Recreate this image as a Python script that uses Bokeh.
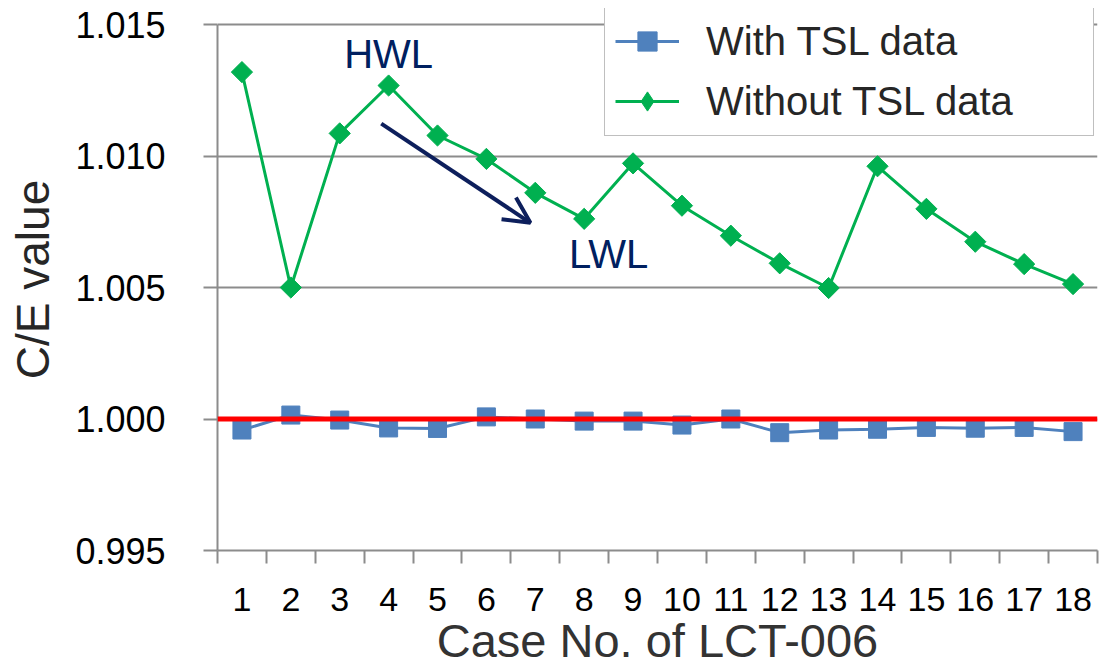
from bokeh.plotting import figure
from bokeh.models import (FixedTicker, NumeralTickFormatter, Span, Legend, LegendItem,
                          Label, Arrow, OpenHead)
from bokeh.embed import file_html
from bokeh.resources import INLINE

# ---------------- data ----------------
cases = list(range(1, 19))
case_labels = [str(c) for c in cases]
with_tsl = [0.99958, 1.00015, 0.99996, 0.99966, 0.99964, 1.00008, 1.00000, 0.99992, 0.99992,
            0.99977, 1.00000, 0.99948, 0.99958, 0.99961, 0.99968, 0.99965, 0.99968, 0.99952]
without_tsl = [1.01319, 1.00500, 1.01086, 1.01268, 1.01078, 1.00989, 1.00860, 1.00761, 1.00972,
               1.00811, 1.00697, 1.00592, 1.00498, 1.00961, 1.00799, 1.00674, 1.00589, 1.00513]
y_ticks = [0.995, 1.000, 1.005, 1.010, 1.015]
series_names = ["With TSL data", "Without TSL data"]

FONT = "Liberation Sans, Arial, sans-serif"
GRID = "#8c8c8c"
BLUE = "#4f81bd"
GREEN = "#00b050"
NAVY = "#0d1f5c"

W, H = 1099, 670
TOP_PAD = 16  # frame extends this many px above the 1.015 gridline (room for the legend)
FRAME_TOP, FRAME_BOTTOM = 8, 550
y_lo, y_hi = y_ticks[0], y_ticks[-1]
y_end = y_hi + (y_hi - y_lo) * TOP_PAD / (FRAME_BOTTOM - FRAME_TOP - TOP_PAD)

p = figure(width=W, height=H, output_backend="svg", toolbar_location=None,
           x_range=(0.5, 18.5), y_range=(y_lo, y_end),
           min_border_left=217, min_border_top=FRAME_TOP, min_border_right=2,
           min_border_bottom=H - FRAME_BOTTOM)
p.outline_line_color = None
p.background_fill_color = "white"

# axes
xa = p.xaxis[0]
xa.ticker = FixedTicker(ticks=cases, minor_ticks=[c + 0.5 for c in [0] + cases])
xa.major_label_overrides = {c: l for c, l in zip(cases, case_labels)}
xa.major_tick_out = 0
xa.major_tick_in = 0
xa.minor_tick_out = 13
xa.minor_tick_in = 0
xa.minor_tick_line_color = GRID
xa.minor_tick_line_width = 2
xa.axis_line_color = GRID
xa.axis_line_width = 2
xa.major_label_text_font = FONT
xa.major_label_text_font_size = "34px"
xa.major_label_text_color = "black"
xa.major_label_standoff = 24
xa.axis_label = "Case No. of LCT-006"
xa.axis_label_text_font = FONT
xa.axis_label_text_font_size = "47px"
xa.axis_label_text_font_style = "normal"
xa.axis_label_text_color = "#333333"
xa.axis_label_standoff = 0

ya = p.yaxis[0]
ya.ticker = FixedTicker(ticks=y_ticks, minor_ticks=[])
ya.formatter = NumeralTickFormatter(format="0.000")
ya.bounds = (y_lo, y_hi)
ya.major_tick_out = 14
ya.major_tick_in = 0
ya.major_tick_line_color = GRID
ya.major_tick_line_width = 2
ya.minor_tick_line_color = None
ya.axis_line_color = GRID
ya.axis_line_width = 2
ya.major_label_text_font = FONT
ya.major_label_text_font_size = "36px"
ya.major_label_text_color = "black"
ya.major_label_standoff = 38
ya.axis_label = "C/E value"
ya.axis_label_text_font = FONT
ya.axis_label_text_font_size = "46px"
ya.axis_label_text_font_style = "normal"
ya.axis_label_text_color = "#262626"
ya.axis_label_standoff = 13

p.xgrid.grid_line_color = None
p.ygrid.grid_line_color = GRID
p.ygrid.grid_line_width = 2
p.ygrid.ticker = FixedTicker(ticks=y_ticks)

# series
bl = p.line(cases, with_tsl, line_color=BLUE, line_width=3)
bs = p.scatter(cases, with_tsl, marker="square", size=18, fill_color=BLUE, line_color=BLUE)
gl = p.line(cases, without_tsl, line_color=GREEN, line_width=3)
# diamond (used for the legend glyph) sits fully under the rotated-square markers
gd = p.scatter(cases, without_tsl, marker="diamond", size=19, fill_color=GREEN, line_color=GREEN)
gs = p.scatter(cases, without_tsl, marker="square", angle=0.785398, size=15,
               fill_color=GREEN, line_color=GREEN)

# reference line at 1.000
p.add_layout(Span(location=1.0, dimension="width", line_color="#ff0000", line_width=5))

# annotations
p.add_layout(Label(x=4.0, y=1.01386, text="HWL", text_align="center", text_baseline="middle",
                   text_font=FONT, text_font_size="40px", text_color="#002060"))
p.add_layout(Label(x=8.5, y=1.00628, text="LWL", text_align="center", text_baseline="middle",
                   text_font=FONT, text_font_size="40px", text_color="#002060"))
p.add_layout(Arrow(x_start=3.85, y_start=1.01123, x_end=6.9, y_end=1.00746,
                   line_color=NAVY, line_width=4,
                   end=OpenHead(size=26, line_color=NAVY, line_width=4)))

# legend (bottom-left anchored, in screen px from the frame's bottom-left)
legend = Legend(items=[LegendItem(label=series_names[0], renderers=[bl, bs]),
                       LegendItem(label=series_names[1], renderers=[gl, gd])],
                location=(387, FRAME_BOTTOM - 136), orientation="vertical",
                label_text_font=FONT, label_text_font_size="40px", label_text_color="#262626",
                glyph_width=64, glyph_height=48, label_height=40, label_width=377,
                label_standoff=27, spacing=12, padding=10, margin=0,
                border_line_color="#7f7f7f", border_line_width=1.5,
                background_fill_color="white", background_fill_alpha=1)
p.add_layout(legend, "center")

open("out.html", "w").write(file_html(p, INLINE))
